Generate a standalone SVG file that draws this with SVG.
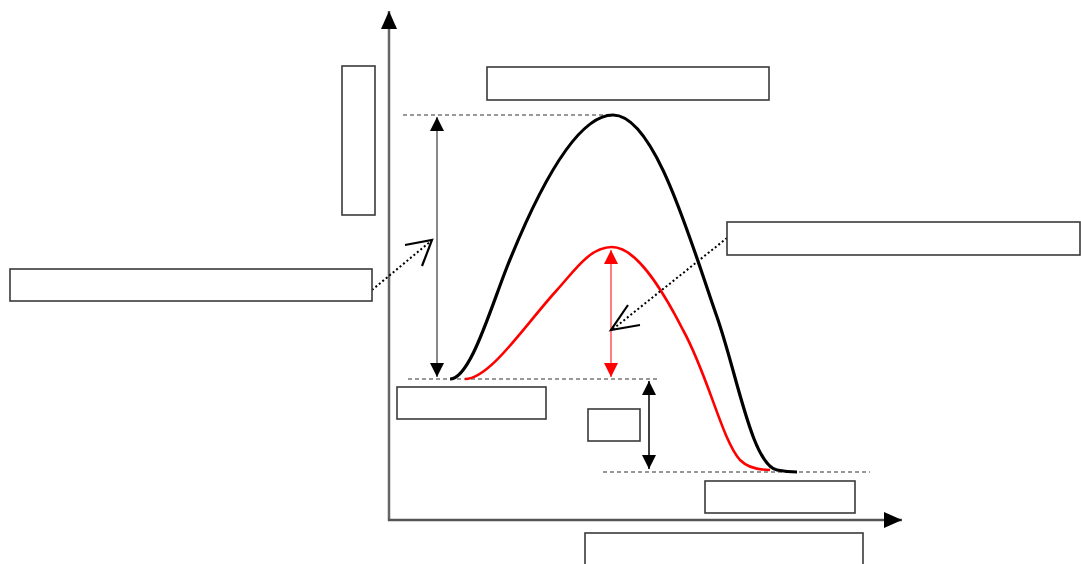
<svg xmlns="http://www.w3.org/2000/svg" width="1081" height="564" viewBox="0 0 1081 564">
<style>
.box{fill:#fff;stroke:#3a3a3a;stroke-width:1.6}
.dash{stroke:#777;stroke-width:1.5;stroke-dasharray:4 3;fill:none}
.dot{stroke:#000;stroke-width:2;stroke-dasharray:2 2.5;fill:none}
.open{stroke:#000;stroke-width:2.2;fill:none}
</style>
<defs>
<marker id="ax" viewBox="0 0 18 16" refX="18" refY="8" markerWidth="18" markerHeight="16" markerUnits="userSpaceOnUse" orient="auto"><path d="M0,0 L18,8 L0,16 Z" fill="#000"/></marker>
<marker id="ah" viewBox="0 0 14 14" refX="14" refY="7" markerWidth="14" markerHeight="14" markerUnits="userSpaceOnUse" orient="auto-start-reverse"><path d="M0,0 L14,7 L0,14 Z" fill="#000"/></marker>
<marker id="ahr" viewBox="0 0 14 14" refX="14" refY="7" markerWidth="14" markerHeight="14" markerUnits="userSpaceOnUse" orient="auto-start-reverse"><path d="M0,0 L14,7 L0,14 Z" fill="#f00"/></marker>
</defs>
<rect width="1081" height="564" fill="#fff"/>
<g id="axes">
<line x1="389" y1="521" x2="389" y2="11" stroke="#666" stroke-width="2.5" marker-end="url(#ax)"/>
<line x1="388" y1="520" x2="902" y2="520" stroke="#555" stroke-width="2.5" marker-end="url(#ax)"/>
</g>
<g id="guides">
<line class="dash" x1="403" y1="115" x2="612" y2="115"/>
<line class="dash" x1="408" y1="379" x2="660" y2="379"/>
<line class="dash" x1="603" y1="472" x2="870" y2="472"/>
</g>
<g id="curves">
<path d="M450,379 C470,379 490,310 507,267 C525,222 570,115 613,115 C655,115 690,240 717,317 C737,374 752,465 777,470 C787,472 790,472 797,472" fill="none" stroke="#000" stroke-width="3.2"/>
<path d="M465,379 C490,379 525,325 557,290 C575,270 590,247 612,247 C635,247 660,285 683,330 C708,375 722,440 740,460 C748,468 758,470 770,470" fill="none" stroke="#f00" stroke-width="2.6"/>
</g>
<g id="connectors">
<line x1="437" y1="117" x2="437" y2="377" stroke="#888" stroke-width="2" marker-start="url(#ah)" marker-end="url(#ah)"/>
<line x1="611" y1="250" x2="611" y2="377" stroke="#f55" stroke-width="1.5" marker-start="url(#ahr)" marker-end="url(#ahr)"/>
<line x1="649" y1="381" x2="649" y2="469" stroke="#000" stroke-width="1.5" marker-start="url(#ah)" marker-end="url(#ah)"/>
<line class="dot" x1="372" y1="290" x2="431" y2="241"/>
<path class="open" d="M405,245 L432,240 L422,266"/>
<line class="dot" x1="727" y1="238" x2="613" y2="329"/>
<path class="open" d="M628,305 L611,330 L640,325"/>
</g>
<g id="n1"><rect class="box" x="342" y="66" width="33" height="149"/></g>
<g id="n2"><rect class="box" x="487" y="67" width="282" height="33"/></g>
<g id="n3"><rect class="box" x="10" y="269" width="362" height="32"/></g>
<g id="n4"><rect class="box" x="727" y="222" width="353" height="33"/></g>
<g id="n5"><rect class="box" x="397" y="387" width="149" height="32"/></g>
<g id="n6"><rect class="box" x="588" y="409" width="52" height="32"/></g>
<g id="n7"><rect class="box" x="705" y="481" width="150" height="32"/></g>
<g id="n8"><rect class="box" x="585" y="533" width="278" height="34"/></g>
</svg>
